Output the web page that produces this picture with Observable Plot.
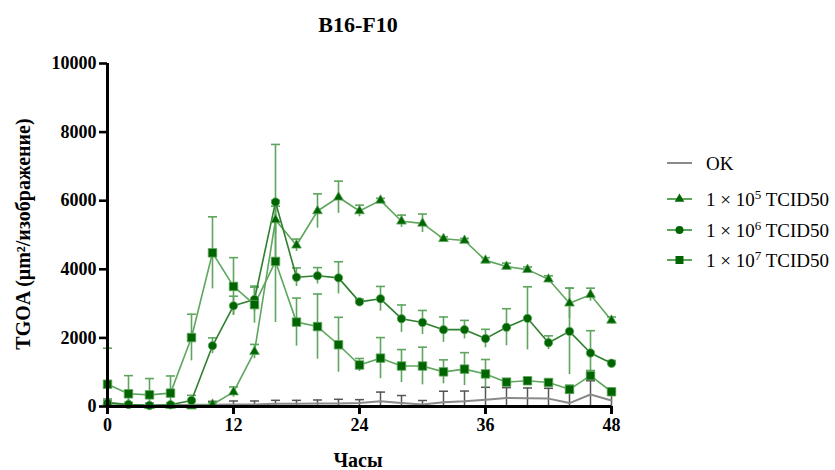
<!DOCTYPE html>
<html><head><meta charset="utf-8">
<script src="https://cdn.jsdelivr.net/npm/d3@7"></script>
<script src="https://cdn.jsdelivr.net/npm/@observablehq/plot@0.6"></script>
<style>
body{margin:0;background:#fff}
svg text{font-family:"Liberation Serif","Times New Roman",serif}
g[aria-label="x-axis tick label"] text, g[aria-label="y-axis tick label"] text{font-weight:bold}
</style></head><body><div id="chart"></div>
<script>
const hours = [0,2,4,6,8,10,12,14,16,18,20,22,24,26,28,30,32,34,36,38,40,42,44,46,48];
const xTicks = [0,12,24,36,48];
const yTicks = [0,2000,4000,6000,8000,10000];
const seriesNames = ["OK","1e5","1e6","1e7"];

const okVals = [30,40,40,40,50,50,60,60,80,80,90,90,100,150,100,60,125,150,200,250,240,230,100,350,175];
const okErr  = [60,60,60,60,100,100,100,100,100,100,100,120,100,270,220,115,320,300,360,300,300,300,300,400,250];

const triVals = [120,60,20,30,10,60,420,1600,5440,4700,5700,6100,5700,6010,5400,5340,4890,4840,4260,4080,3990,3710,3010,3260,2510];
const triErr  = [100,50,30,30,30,50,150,210,400,180,500,470,170,60,180,270,60,60,80,100,80,100,440,190,100];

const circVals = [100,60,30,50,175,1770,2935,3120,5960,3770,3810,3750,3050,3140,2560,2450,2240,2240,1980,2310,2570,1860,2190,1560,1260];
const circErr  = [80,60,40,60,150,230,280,360,1680,270,240,470,80,360,400,350,370,270,270,540,920,200,1260,650,80];

const sqVals = [650,370,340,390,2010,4480,3500,2970,4230,2460,2330,1800,1210,1410,1180,1180,1010,1090,950,710,750,700,500,900,430];
const sqErr  = [1050,530,475,500,680,1050,840,540,1780,700,950,800,190,600,480,550,350,480,420,100,80,80,120,150,60];

function rows(series, vals, errs){
  return hours.map((h,i)=>({series, h, v: vals[i], lo: Math.max(0, vals[i]-errs[i]), hi: vals[i]+errs[i]}));
}
const ok = rows("OK", okVals, okErr);
const tri = rows("1e5", triVals, triErr);
const circ = rows("1e6", circVals, circErr);
const sq = rows("1e7", sqVals, sqErr);

const cap = {draw(ctx, size){ ctx.moveTo(-4.5,0); ctx.lineTo(4.5,0); }};
const dark = "#006400";
const light = "#5ea65e";

function errMarks(data, color, width){
  return [
    Plot.ruleX(data, {x:"h", y1:"lo", y2:"hi", stroke: color, strokeWidth: width}),
    Plot.dot(data, {x:"h", y:"hi", symbol: cap, r: 3, fill: "none", stroke: color, strokeWidth: width})
  ];
}

const plot = Plot.plot({
  width: 835, height: 470,
  marginLeft: 107, marginRight: 224, marginTop: 63, marginBottom: 64,
  style: {fontFamily: "Liberation Serif, serif", background: "#fff", overflow: "visible"},
  x: {domain: [0,48], label: null},
  y: {domain: [0,10000], label: null},
  marks: [
    ...errMarks(ok, "#555", 1.5),
    Plot.line(ok, {x:"h", y:"v", stroke: "#8a8a8a", strokeWidth: 2}),
    ...errMarks(tri, light, 1.6),
    ...errMarks(circ, light, 1.6),
    ...errMarks(sq, light, 1.6),
    Plot.line(tri, {x:"h", y:"v", stroke: light, strokeWidth: 1.6}),
    Plot.line(circ, {x:"h", y:"v", stroke: "#2f7f2f", strokeWidth: 1.6}),
    Plot.line(sq, {x:"h", y:"v", stroke: light, strokeWidth: 1.6}),
    Plot.dot(tri, {x:"h", y:"v", symbol:"triangle", r: 3.6, fill: dark, stroke: "#5ea65e", strokeWidth: 0.8}),
    Plot.dot(circ, {x:"h", y:"v", symbol:"circle", r: 4.2, fill: dark, stroke: "#5ea65e", strokeWidth: 0.8}),
    Plot.dot(sq, {x:"h", y:"v", symbol:"square", r: 4.8, fill: dark, stroke: "#5ea65e", strokeWidth: 0.8}),
    Plot.axisY({ticks: yTicks, tickSize: 8, tickPadding: 3, strokeWidth: 2.6, fontSize: 18, fill: "#000", tickFormat: d => String(d)}),
    Plot.axisX({ticks: xTicks, tickSize: 8, tickPadding: 4, strokeWidth: 3, fontSize: 18, fill: "#000", tickFormat: d => String(d)}),
    Plot.ruleX([0], {y1: 0, y2: 10000, stroke: "#000", strokeWidth: 3}),
    Plot.ruleY([0], {x1: 0, x2: 48, stroke: "#000", strokeWidth: 3})
  ]
});

const svg = d3.select(plot);
svg.append("text").attr("x", 358).attr("y", 32).attr("text-anchor","middle")
  .attr("font-size", 22).attr("font-weight","bold").attr("fill","#000").text("B16-F10");
svg.append("text").attr("transform","translate(30,234) rotate(-90)").attr("text-anchor","middle")
  .attr("font-size", 20).attr("font-weight","bold").attr("fill","#000").text("TGOA (μm²/изображение)");
svg.append("text").attr("x", 358).attr("y", 467).attr("text-anchor","middle")
  .attr("font-size", 20).attr("font-weight","bold").attr("fill","#000").text("Часы");

// legend
const legend = [
  {y:163, sym:null, label:"OK"},
  {y:199, sym:d3.symbolTriangle, exp:"5"},
  {y:230, sym:d3.symbolCircle, exp:"6"},
  {y:260, sym:d3.symbolSquare, exp:"7"}
];
const lg = svg.append("g").attr("text-anchor", "start");
legend.forEach(d => {
  lg.append("line").attr("x1",667).attr("x2",692).attr("y1",d.y).attr("y2",d.y)
    .attr("stroke", d.sym ? light : "#8a8a8a").attr("stroke-width", 2);
  if (d.sym) {
    const size = d.sym === d3.symbolSquare ? 64 : (d.sym === d3.symbolCircle ? 50 : 40);
    lg.append("path").attr("d", d3.symbol(d.sym, size)()).attr("transform", `translate(679.5,${d.y})`).attr("fill", dark);
  }
  const t = lg.append("text").attr("x",706).attr("y", d.y + 6.5).attr("text-anchor","start")
    .attr("font-size", 19).attr("fill","#000");
  if (d.sym) {
    t.append("tspan").text("1 × 10");
    t.append("tspan").attr("dy", -7).attr("font-size", 13).text(d.exp);
    t.append("tspan").attr("dy", 7).text(" TCID50");
  } else {
    t.text(d.label);
  }
});

document.getElementById("chart").appendChild(plot);
</script></body></html>
